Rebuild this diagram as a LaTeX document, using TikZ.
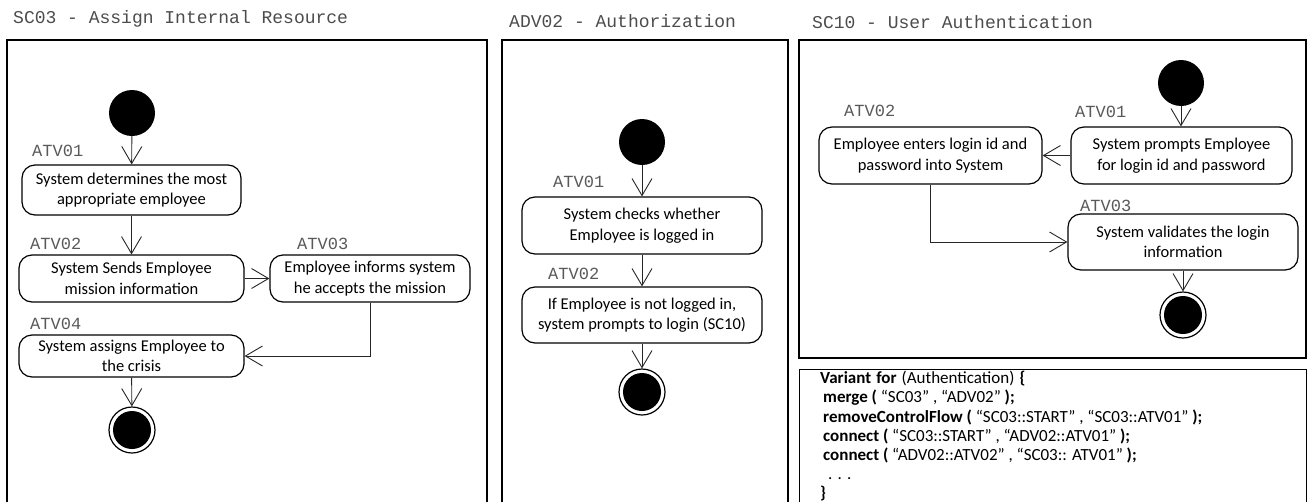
\documentclass[tikz,border=0pt]{standalone}
\usepackage{fontspec}
\setmainfont{Carlito}
\newfontfamily\codefont{Liberation Mono}
\usetikzlibrary{arrows.meta}

\tikzset{
  activity/.style={rectangle, rounded corners=13pt, draw, line width=1.2pt, align=center, inner sep=0pt, font=\fontsize{16.5}{20.5}\selectfont},
  startstate/.style={circle, fill=black, minimum size=46pt, inner sep=0pt},
  endstate/.style={circle, draw, line width=1.2pt, minimum size=46pt, inner sep=0pt, path picture={\fill (path picture bounding box.center) circle (19pt);}},
  flow/.style={-{Straight Barb[length=17pt,width=20pt]}, line width=0.9pt, black!85},
  tag/.style={anchor=base west, inner sep=0pt, text=black!65, font=\codefont\fontsize{17}{19}\selectfont},
  heading/.style={anchor=base west, inner sep=0pt, text=black!70, font=\codefont\fontsize{18}{20}\selectfont},
  frame/.style={line width=1.3pt}
}

\begin{document}
\begin{tikzpicture}[x=1pt,y=-1pt]
\useasboundingbox (0,0) rectangle (1309,501);

% SC03
\node[heading] (sc03title) at (13,23) {SC03 - Assign Internal Resource};
\draw[frame] (7,505) -- (7,40) -- (487,40) -- (487,505);
\node[startstate] (sc03start) at (132,113) {};
\node[tag] (sc03tag1) at (32,156) {ATV01};
\node[activity, minimum width=219pt, minimum height=50pt] (sc03atv01) at (131.5,190) {System determines the most\\appropriate employee};
\node[tag] (sc03tag2) at (30,249) {ATV02};
\node[activity, minimum width=225pt, minimum height=47pt] (sc03atv02) at (131.5,278.5) {System Sends Employee\\mission information};
\node[tag] (sc03tag3) at (297,249) {ATV03};
\node[activity, minimum width=200pt, minimum height=47pt] (sc03atv03) at (370,278.5) {Employee informs system\\he accepts the mission};
\node[tag] (sc03tag4) at (30,329) {ATV04};
\node[activity, minimum width=225pt, minimum height=42pt] (sc03atv04) at (131.5,356) {System assigns Employee to\\the crisis};
\node[endstate] (sc03end) at (132,430) {};
\draw[flow] (sc03start) -- (sc03atv01);
\draw[flow] (sc03atv01) -- (sc03atv02);
\draw[flow] (sc03atv02) -- (sc03atv03);
\draw[flow] (sc03atv03.south) |- (sc03atv04.east);
\draw[flow] (sc03atv04) -- (sc03end);

% ADV02
\node[heading] (adv02title) at (509,27) {ADV02 - Authorization};
\draw[frame] (502,505) -- (502,40) -- (788,40) -- (788,505);
\node[startstate] (adv02start) at (642,142) {};
\node[tag] (adv02tag1) at (553,187) {ATV01};
\node[activity, minimum width=240pt, minimum height=57pt] (adv02atv01) at (642,225.5) {System checks whether\\Employee is logged in};
\node[tag] (adv02tag2) at (548,279) {ATV02};
\node[activity, minimum width=240pt, minimum height=56pt] (adv02atv02) at (642,315) {If Employee is not logged in,\\system prompts to login (SC10)};
\node[endstate] (adv02end) at (642,392) {};
\draw[flow] (adv02start) -- (adv02atv01);
\draw[flow] (adv02atv01) -- (adv02atv02);
\draw[flow] (adv02atv02) -- (adv02end);

% SC10
\node[heading] (sc10title) at (812,28) {SC10 - User Authentication};
\draw[frame] (799,40) rectangle (1306,358);
\node[startstate] (sc10start) at (1181,83) {};
\node[tag] (sc10tag1) at (1075,117) {ATV01};
\node[activity, minimum width=221pt, minimum height=57pt] (sc10atv01) at (1181.5,155.5) {System prompts Employee\\for login id and password};
\node[tag] (sc10tag2) at (844,116) {ATV02};
\node[activity, minimum width=223pt, minimum height=57pt] (sc10atv02) at (930.5,155.5) {Employee enters login id and\\password into System};
\node[tag] (sc10tag3) at (1080,211) {ATV03};
\node[activity, minimum width=230pt, minimum height=56pt] (sc10atv03) at (1183,242) {System validates the login\\information};
\node[endstate] (sc10end) at (1183,315) {};
\draw[flow] (sc10start) -- (sc10start |- sc10atv01.north);
\draw[flow] (sc10atv01) -- (sc10atv02);
\draw[flow] (sc10atv02.south) |- (sc10atv03.west);
\draw[flow] (sc10atv03) -- (sc10end);

% variant
\draw[line width=1pt] (799,505) -- (799,369) -- (1306,369) -- (1306,505);
\node[anchor=north west, inner sep=0pt, align=left, font=\fontsize{17}{19.2}\selectfont] (variant) at (820,371) {%
\spaceskip=0.3em plus 0.1em\relax
\textbf{Variant for} (Authentication) \textbf{\{}\\
\hspace*{3pt}\textbf{merge (} “SC03” , “ADV02” \textbf{);}\\
\hspace*{3pt}\textbf{removeControlFlow (} “SC03::START” , “SC03::ATV01” \textbf{);}\\
\hspace*{3pt}\textbf{connect (} “SC03::START” , “ADV02::ATV01” \textbf{);}\\
\hspace*{3pt}\textbf{connect (} “ADV02::ATV02” , “SC03:: ATV01” \textbf{);}\\
\hspace*{8pt}. . .\\
\textbf{\}}};
\end{tikzpicture}
\end{document}
